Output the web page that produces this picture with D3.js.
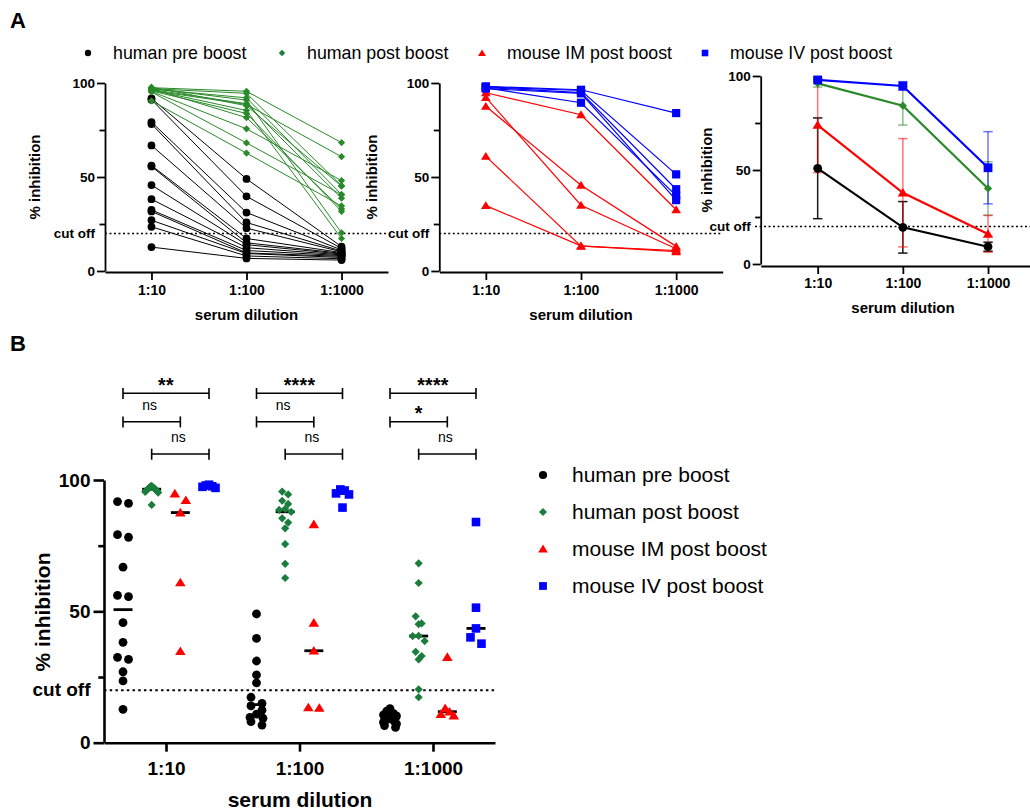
<!DOCTYPE html>
<html><head><meta charset="utf-8">
<script src="https://cdn.jsdelivr.net/npm/d3@7"></script>
<style>body{margin:0;background:#fff}svg{font-family:"Liberation Sans",Arial,Helvetica,sans-serif}</style>
</head><body><svg id="c" width="1030" height="812"></svg>
<script>
// ---------------- DATA ----------------
const dilutions = ["1:10", "1:100", "1:1000"];
const seriesNames = ["human pre boost", "human post boost", "mouse IM post boost", "mouse IV post boost"];
const yTickValues = [0, 50, 100];
const yMinorTickValues = [25, 75];
const cutOff = 20;

// individual subjects (index i = same subject across dilutions)
const pre10   = [91.8, 91.1, 79.2, 78.2, 66.8, 56.1, 55.6, 45.7, 38.2, 32.5, 31.7, 27.0, 23.5, 12.7];
const pre100  = [49.0, 39.7, 31.1, 25.8, 22.8, 17.3, 15.0, 14.0, 12.4, 10.9, 9.6, 9.3, 8.0, 6.7];
const pre1000 = [13.0, 12.0, 11.2, 10.6, 10.2, 9.8, 9.4, 9.0, 8.6, 8.2, 7.8, 7.2, 6.5, 5.8];

const post10   = [97.5, 97.0, 96.8, 97.2, 96.5, 96.0, 97.8, 96.3, 95.8, 96.9, 95.5, 95.2, 90.5];
const post100  = [95.6, 94.5, 92.1, 90.9, 89.0, 88.6, 87.9, 85.4, 83.8, 81.6, 75.6, 68.1, 62.7];
const post1000 = [68.3, 45.4, 40.7, 20.3, 38.7, 60.8, 45.1, 17.3, 31.7, 33.0, 48.1, 40.6, 34.6];

const im10   = [94.8, 92.3, 87.6, 61.0, 34.8];
const im100  = [83.1, 35.0, 45.6, 13.2, 13.4];
const im1000 = [32.6, 11.8, 13.1, 10.9, 10.3];

const iv10   = [98.2, 97.9, 97.6, 97.4, 97.0];
const iv100  = [96.4, 96.0, 94.9, 89.5, 94.5];
const iv1000 = [84.0, 51.4, 43.5, 40.1, 37.7];

// group mean and SD (panel A, right)
const preMean  = [50.9, 19.5, 9.2],  preSD  = [26.8, 13.7, 2.4];
const postMean = [96.1, 84.2, 40.2], postSD = [2.0, 10.3, 14.2];
const imMean   = [73.9, 37.9, 16.0], imSD   = [25.3, 28.8, 9.8];
const ivMean   = [97.9, 94.7, 51.2], ivSD   = [0.5, 2.3, 19.2];

// significance (panel B)
const sigPairs = [["human pre boost", "mouse IV post boost"], ["human pre boost", "mouse IM post boost"], ["human post boost", "mouse IV post boost"]];
const sigLabels = [["**", "ns", "ns"], ["****", "ns", "ns"], ["****", "*", "ns"]];

// ---------------- SETUP ----------------
const subj = {
  "human pre boost": [pre10, pre100, pre1000],
  "human post boost": [post10, post100, post1000],
  "mouse IM post boost": [im10, im100, im1000],
  "mouse IV post boost": [iv10, iv100, iv1000]
};
const stats = {
  "human pre boost": [preMean, preSD],
  "human post boost": [postMean, postSD],
  "mouse IM post boost": [imMean, imSD],
  "mouse IV post boost": [ivMean, ivSD]
};
const shapeOf = {"human pre boost": "circle", "human post boost": "diamond", "mouse IM post boost": "triangle", "mouse IV post boost": "square"};
const colA = {"human pre boost": "#000000", "human post boost": "#2a8a2a", "mouse IM post boost": "#ff0000", "mouse IV post boost": "#0000ff"};
const colB = {"human pre boost": "#000000", "human post boost": "#1b7d3d", "mouse IM post boost": "#ff0000", "mouse IV post boost": "#0000ff"};

function shapePath(type, s) {
  if (type === "circle") return `M${s},0A${s},${s} 0 1,1 ${-s},0A${s},${s} 0 1,1 ${s},0Z`;
  if (type === "diamond") return `M0,${-s}L${s},0L0,${s}L${-s},0Z`;
  if (type === "triangle") return `M0,${-s}L${s*1.1},${s*0.8}L${-s*1.1},${s*0.8}Z`;
  return `M${-s},${-s}h${2*s}v${2*s}h${-2*s}Z`;
}

const svg = d3.select("#c");
const FONT = '"Liberation Sans",Arial,Helvetica,sans-serif';

function styleAxis(g, sw, fs) {
  g.attr("font-family", FONT).attr("font-size", fs).attr("font-weight", "bold");
  g.selectAll("path.domain").attr("stroke", "#000").attr("stroke-width", sw);
  g.selectAll(".tick line").attr("stroke", "#000").attr("stroke-width", sw);
  g.selectAll(".tick text").attr("fill", "#000");
}

function yAxis(x0, y, opt) {
  const g = svg.append("g").attr("transform", `translate(${x0},0)`)
    .call(d3.axisLeft(y).tickValues(yTickValues).tickSize(opt.major).tickSizeOuter(0).tickPadding(opt.pad));
  styleAxis(g, opt.sw, opt.fs);
  const m = svg.append("g").attr("transform", `translate(${x0},0)`)
    .call(d3.axisLeft(y).tickValues(yMinorTickValues).tickSize(opt.minor).tickFormat(""));
  m.select("path.domain").remove();
  styleAxis(m, opt.sw, opt.fs);
  svg.append("text").attr("x", x0 - opt.major - opt.pad).attr("y", y(cutOff)).attr("dy", "0.33em")
    .attr("text-anchor", "end").attr("font-size", opt.fs).attr("font-weight", "bold").text("cut off");
  svg.append("text").attr("transform", `translate(${opt.titleX},${opt.titleY}) rotate(-90)`)
    .attr("text-anchor", "middle").attr("dy", "0.35em").attr("font-size", opt.tfs).attr("font-weight", "bold").text("% inhibition");
}
function xAxis(x, yPos, opt) {
  const g = svg.append("g").attr("transform", `translate(0,${yPos})`)
    .call(d3.axisBottom(x).tickSize(opt.tick).tickSizeOuter(0).tickPadding(opt.pad));
  styleAxis(g, opt.sw, opt.fs);
  svg.append("text").attr("x", opt.titleCX).attr("y", opt.titleY).attr("text-anchor", "middle")
    .attr("font-size", opt.tfs).attr("font-weight", "bold").text("serum dilution");
}
function cutLine(x1, x2, y, sw, dash) {
  svg.append("line").attr("x1", x1).attr("x2", x2).attr("y1", y(cutOff)).attr("y2", y(cutOff))
    .attr("stroke", "#000").attr("stroke-width", sw).attr("stroke-dasharray", dash);
}

// panel labels
svg.append("text").attr("x", 10).attr("y", 28).attr("font-size", 22).attr("font-weight", "bold").text("A");
svg.append("text").attr("x", 10).attr("y", 351).attr("font-size", 22).attr("font-weight", "bold").text("B");

// legend A
const legAX = [88, 282, 482, 705];
const legASize = {"circle": 3.2, "diamond": 3.2, "triangle": 3.6, "square": 3.3};
seriesNames.forEach((s, i) => {
  svg.append("path").attr("d", shapePath(shapeOf[s], legASize[shapeOf[s]])).attr("transform", `translate(${legAX[i]},53)`).attr("fill", colB[s]);
  svg.append("text").attr("x", legAX[i] + 25).attr("y", 53).attr("dy", "0.35em").attr("font-size", 17.8).text(s);
});

// ---------------- PANEL A: individual ----------------
const yA = d3.scaleLinear().domain([0, 100]).range([271, 83]);
const axOptA = {major: 8, minor: 5.5, pad: 2, sw: 1.8, fs: 13.5, tfs: 15};
const xOptA = {tick: 8, pad: 5, sw: 1.8, fs: 14, tfs: 15};

function drawIndividual(x, names, sizes, lw) {
  names.forEach(s => {
    const d = subj[s];
    const n = d[0].length;
    const line = d3.line().x((v, k) => x(dilutions[k])).y(v => yA(v));
    for (let i = 0; i < n; i++) {
      const pts = dilutions.map((dl, k) => d[k][i]);
      svg.append("path").attr("d", line(pts)).attr("fill", "none").attr("stroke", colA[s]).attr("stroke-width", lw);
    }
    for (let i = 0; i < n; i++) {
      dilutions.forEach((dl, k) => {
        svg.append("path").attr("d", shapePath(shapeOf[s], sizes[s]))
          .attr("transform", `translate(${x(dl)},${yA(d[k][i])})`).attr("fill", colA[s]);
      });
    }
  });
}

// left
const xA1 = d3.scalePoint().domain(dilutions).range([105, 388]).padding(0.489);
cutLine(105, 388, yA, 1.5, "2,2.5");
yAxis(105, yA, Object.assign({titleX: 35, titleY: 177}, axOptA));
xAxis(xA1, 272, Object.assign({titleCX: 246.5, titleY: 320}, xOptA));
drawIndividual(xA1, ["human pre boost", "human post boost"], {"human pre boost": 3.9, "human post boost": 3.6}, 1);

// middle
const xA2 = d3.scalePoint().domain(dilutions).range([439.3, 722.7]).padding(0.489);
cutLine(439.3, 722, yA, 1.5, "2,2.5");
yAxis(439.3, yA, Object.assign({titleX: 372, titleY: 177}, axOptA));
xAxis(xA2, 272, Object.assign({titleCX: 581, titleY: 320}, xOptA));
drawIndividual(xA2, ["mouse IM post boost", "mouse IV post boost"], {"mouse IM post boost": 4.4, "mouse IV post boost": 4.1}, 1.2);

// right: mean +- SD
const yA3 = d3.scaleLinear().domain([0, 100]).range([264, 76]);
const xA3 = d3.scalePoint().domain(dilutions).range([760.7, 1045]).padding(0.669);
cutLine(755, 1030, yA3, 1.5, "2,2.5");
yAxis(760.7, yA3, Object.assign({titleX: 707, titleY: 170}, axOptA));
xAxis(xA3, 266, Object.assign({titleCX: 903, titleY: 313}, Object.assign({}, xOptA, {pad: 3.7})));
const sizeA3 = {"human pre boost": 4.4, "human post boost": 4.1, "mouse IM post boost": 4.7, "mouse IV post boost": 4.4};
seriesNames.forEach(s => {
  const [m, sd] = stats[s];
  dilutions.forEach((dl, k) => {
    const x = xA3(dl), y1 = yA3(m[k] + sd[k]), y2 = yA3(m[k] - sd[k]);
    const op = s === "human pre boost" ? 0.9 : 0.55;
    const g = svg.append("g").attr("stroke", colA[s]).attr("stroke-width", 1.5).attr("stroke-opacity", op);
    g.append("line").attr("x1", x).attr("x2", x).attr("y1", y1).attr("y2", y2);
    g.append("line").attr("x1", x - 4.7).attr("x2", x + 4.7).attr("y1", y1).attr("y2", y1);
    g.append("line").attr("x1", x - 4.7).attr("x2", x + 4.7).attr("y1", y2).attr("y2", y2);
  });
});
seriesNames.forEach(s => {
  const [m] = stats[s];
  const line = d3.line().x((v, k) => xA3(dilutions[k])).y(v => yA3(v));
  svg.append("path").attr("d", line(m)).attr("fill", "none").attr("stroke", colA[s]).attr("stroke-width", 2.2);
  m.forEach((v, k) => svg.append("path").attr("d", shapePath(shapeOf[s], sizeA3[s]))
    .attr("transform", `translate(${xA3(dilutions[k])},${yA3(v)})`).attr("fill", colA[s]));
});

// ---------------- PANEL B ----------------
const yB = d3.scaleLinear().domain([0, 100]).range([742.7, 480]);
const xB = d3.scalePoint().domain(dilutions).range([104, 495]).padding(0.4645);
const inner = d3.scalePoint().domain(seriesNames).range([-43, 43]);

cutLine(104, 495, yB, 2, "2.5,3.2");
yAxis(104, yB, {major: 10.5, minor: 5.7, pad: 3, sw: 2.6, fs: 19, tfs: 21, titleX: 43, titleY: 612});
xAxis(xB, 742.7, {tick: 9, pad: 10, sw: 2.6, fs: 19, tfs: 21, titleCX: 300, titleY: 807});

function swarm(vals, spacing, thresh, maxHalf) {
  const idx = vals.map((v, i) => i).sort((a, b) => vals[b] - vals[a]);
  const off = new Array(vals.length).fill(0);
  let g = [];
  const flush = () => {
    const n = g.length;
    if (!n) return;
    let sp = spacing;
    if (n > 1 && (n - 1) * sp / 2 > maxHalf) sp = 2 * maxHalf / (n - 1);
    const pos = d3.range(n).map(j => (j - (n - 1) / 2) * sp).sort((a, b) => Math.abs(a) - Math.abs(b) || a - b);
    g.forEach((id, k) => off[id] = pos[k]);
    g = [];
  };
  idx.forEach(i => {
    if (g.length && Math.abs(yB(vals[i]) - yB(vals[g[0]])) >= thresh) flush();
    g.push(i);
  });
  flush();
  return off;
}
const spacingB = {"human pre boost": 11, "human post boost": 6, "mouse IM post boost": 11, "mouse IV post boost": 11};
const sizeB = {"human pre boost": 4.4, "human post boost": 4.1, "mouse IM post boost": 4.8, "mouse IV post boost": 4.3};

// medians
seriesNames.forEach(s => dilutions.forEach((dl, k) => {
  const md = d3.median(subj[s][k]);
  const cx = xB(dl) + inner(s);
  svg.append("line").attr("x1", cx - 9.5).attr("x2", cx + 9.5).attr("y1", yB(md)).attr("y2", yB(md))
    .attr("stroke", "#000").attr("stroke-width", 2.8);
}));
// points
seriesNames.forEach(s => dilutions.forEach((dl, k) => {
  const vals = subj[s][k];
  const off = swarm(vals, spacingB[s], 7.5, 6.5);
  const cx = xB(dl) + inner(s);
  vals.forEach((v, i) => svg.append("path").attr("d", shapePath(shapeOf[s], sizeB[s]))
    .attr("transform", `translate(${cx + off[i]},${yB(v)})`).attr("fill", colB[s]));
}));

// significance brackets
const bracketY = [393.3, 421.7, 454];
dilutions.forEach((dl, k) => {
  sigPairs.forEach((p, j) => {
    const x1 = xB(dl) + inner(p[0]), x2 = xB(dl) + inner(p[1]), y = bracketY[j];
    const g = svg.append("g").attr("stroke", "#000").attr("stroke-width", 1.6);
    g.append("line").attr("x1", x1).attr("x2", x2).attr("y1", y).attr("y2", y);
    g.append("line").attr("x1", x1).attr("x2", x1).attr("y1", y - 5.3).attr("y2", y + 5.7);
    g.append("line").attr("x1", x2).attr("x2", x2).attr("y1", y - 5.3).attr("y2", y + 5.7);
    const lab = sigLabels[k][j];
    const isNs = lab === "ns";
    svg.append("text").attr("x", (x1 + x2) / 2 - (isNs ? 2 : 0)).attr("y", isNs ? y - 12 : y - 1.5)
      .attr("text-anchor", "middle").attr("font-size", isNs ? 14 : 19.5).attr("font-weight", isNs ? "normal" : "bold")
      .attr("letter-spacing", isNs ? 0 : 0.3).text(lab);
  });
});

// legend B
const legBSize = {"circle": 4.1, "diamond": 4.0, "triangle": 4.4, "square": 3.9};
seriesNames.forEach((s, i) => {
  const y = 475 + i * 37;
  svg.append("path").attr("d", shapePath(shapeOf[s], legBSize[shapeOf[s]])).attr("transform", `translate(543,${y})`).attr("fill", colB[s]);
  svg.append("text").attr("x", 572).attr("y", y).attr("dy", "0.35em").attr("font-size", 21).text(s);
});
</script>
</body></html>
